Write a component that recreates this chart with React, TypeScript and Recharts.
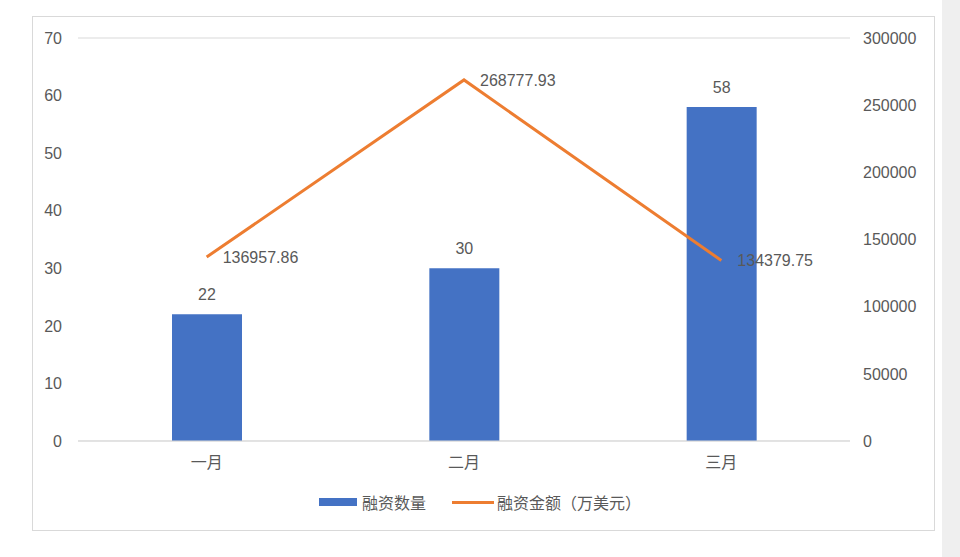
import { ComposedChart, Bar, Line, XAxis, YAxis, CartesianGrid, LabelList, Legend } from 'recharts'

const months = ['一月', '二月', '三月']
const dealCounts = [22, 30, 58]
const dealAmounts = [136957.86, 268777.93, 134379.75]
const leftTicks = [0, 10, 20, 30, 40, 50, 60, 70]
const rightTicks = [0, 50000, 100000, 150000, 200000, 250000, 300000]

const data = months.map((m, i) => ({ month: m, count: dealCounts[i], amount: dealAmounts[i] }))

const textColor = '#595959'
const font = '"Liberation Sans", "Noto Sans CJK SC", sans-serif'

function LegendBox() {
  return (
    <div style={{ height: 24, display: 'flex', justifyContent: 'center', alignItems: 'center', fontSize: 16, color: textColor, fontFamily: font }}>
      <span style={{ display: 'inline-block', width: 38, height: 8, background: '#4472C4', marginRight: 5 }} />
      <span>融资数量</span>
      <span style={{ display: 'inline-block', width: 42, height: 3, background: '#ED7D31', marginLeft: 26, marginRight: 3 }} />
      <span>融资金额（万美元）</span>
    </div>
  )
}

export default function App() {
  return (
    <div style={{ position: 'absolute', left: 0, top: 0, width: 960, height: 557, background: '#fff', fontFamily: font }}>
      <div style={{ position: 'absolute', left: 32, top: 16, width: 901, height: 513, border: '1px solid #d9d9d9' }} />
      <div style={{ position: 'absolute', left: 942, top: 0, width: 18, height: 557, background: '#efefef' }} />
      <ComposedChart
        width={960}
        height={557}
        data={data}
        margin={{ top: 38, right: 50, left: 18, bottom: 62 }}
        style={{ position: 'absolute', left: 0, top: 0 }}
      >
        <CartesianGrid vertical={false} stroke="#d9d9d9" />
        <XAxis
          dataKey="month"
          axisLine={{ stroke: '#d9d9d9' }}
          tickLine={false}
          tickSize={0}
          tickMargin={16}
          height={30}
          tick={{ fill: textColor, fontSize: 16 }}
        />
        <YAxis
          yAxisId="left"
          domain={[0, 70]}
          ticks={leftTicks}
          width={60}
          axisLine={false}
          tickLine={false}
          tickSize={0}
          tickMargin={16}
          tick={{ fill: textColor, fontSize: 16 }}
        />
        <YAxis
          yAxisId="right"
          orientation="right"
          domain={[0, 300000]}
          ticks={rightTicks}
          width={60}
          axisLine={false}
          tickLine={false}
          tickSize={0}
          tickMargin={13}
          tick={{ fill: textColor, fontSize: 16, textAnchor: 'start' }}
        />
        <Bar yAxisId="left" dataKey="count" name="融资数量" fill="#4472C4" barSize={70} isAnimationActive={false}>
          <LabelList dataKey="count" position="top" offset={14} fill={textColor} fontSize={16} />
        </Bar>
        <Line
          yAxisId="right"
          dataKey="amount"
          name="融资金额（万美元）"
          stroke="#ED7D31"
          strokeWidth={3}
          dot={false}
          activeDot={false}
          type="linear"
          isAnimationActive={false}
        >
          <LabelList dataKey="amount" position="right" offset={16} fill={textColor} fontSize={16} />
        </Line>
        <Legend content={() => <LegendBox />} wrapperStyle={{ top: 490, left: 0, width: 960 }} />
      </ComposedChart>
    </div>
  )
}
